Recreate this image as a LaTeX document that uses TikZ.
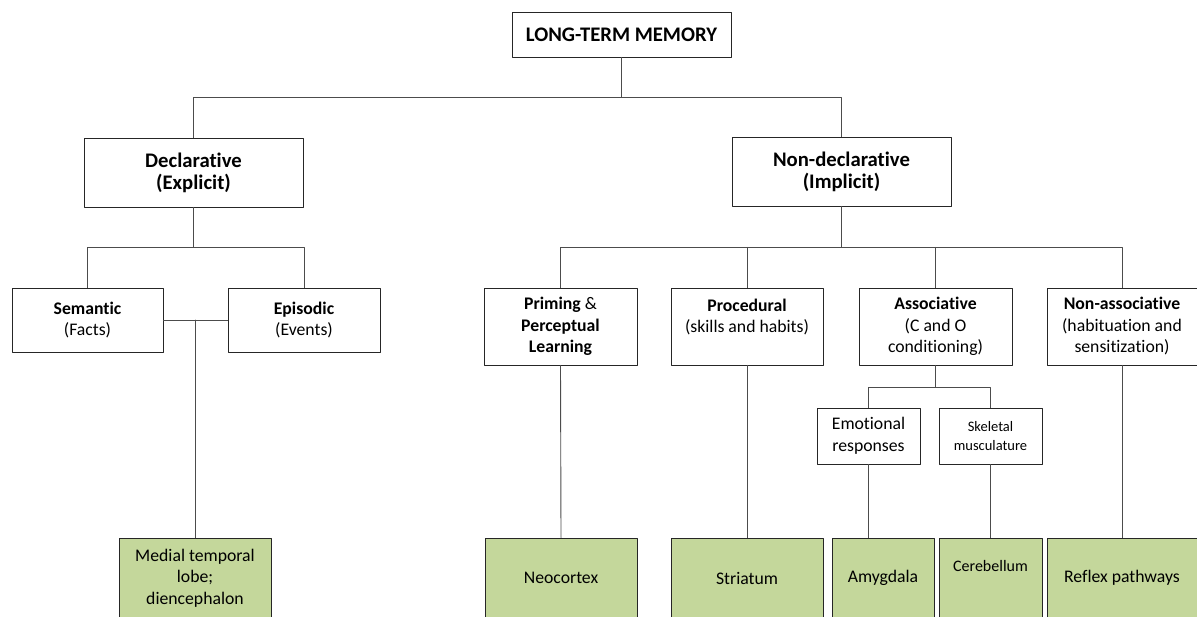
\documentclass[tikz,border=0pt]{standalone}
\usepackage{fontspec}
\setmainfont{Carlito}[Ligatures=NoCommon]
\definecolor{leaf}{HTML}{C4D79B}
\begin{document}
\begin{tikzpicture}[x=1pt, y=-1pt, line join=round, line cap=round,
  box/.style={draw=black!85, line width=0.9pt, fill=white, align=center, inner sep=1pt,
    font=\fontsize{17.7}{21.5}\selectfont},
  head/.style={box, minimum width=219pt, font=\fontsize{20.7}{22}\selectfont\bfseries},
  brain/.style={box, fill=leaf, minimum height=80pt},
  link/.style={draw=black!70, line width=0.9pt}]
\useasboundingbox (0,0) rectangle (1197,617);
\clip (0,0) rectangle (1197,617);
% top levels
\node[head, minimum height=45pt] (ltm) at (621.5,34.5) {LONG-TERM MEMORY};
\node[head, minimum height=69pt] (decl) at (193.5,172.5) {Declarative\\(Explicit)};
\node[head, minimum height=69pt] (nd) at (841.5,171.5) {Non-declarative\\(Implicit)};
% declarative branch
\node[box, minimum width=151pt, minimum height=64pt] (sem) at (87.5,320) {\textbf{Semantic}\\(Facts)};
\node[box, minimum width=152pt, minimum height=64pt] (epi) at (304,320) {\textbf{Episodic}\\(Events)};
% non-declarative branch
\node[box, minimum width=153pt, minimum height=77pt] (prim) at (560.5,326.5) {\textbf{Priming} \&\\\textbf{Perceptual}\\\textbf{Learning}};
\node[box, minimum width=152pt, minimum height=77pt] (proc) at (747,326.5) {\textbf{Procedural}\\(skills and habits)\\~};
\node[box, minimum width=153pt, minimum height=77pt] (assoc) at (935.5,326.5) {\textbf{Associative}\\(C and O\\conditioning)};
\node[box, minimum width=150pt, minimum height=77pt] (nonas) at (1122,326.5) {\textbf{Non-associative}\\(habituation and\\sensitization)};
\node[box, minimum width=103pt, minimum height=56pt] (emo) at (868.5,436) {Emotional\\responses};
\node[box, minimum width=103pt, minimum height=56pt, font=\fontsize{14.5}{19}\selectfont] (skel) at (990.5,436) {Skeletal\\musculature};
% brain regions
\node[brain, minimum width=152pt] (mtl) at (195,578) {Medial temporal\\lobe;\\diencephalon};
\node[brain, minimum width=152pt] (neo) at (561,578) {Neocortex};
\node[brain, minimum width=152pt] (stri) at (747,578) {Striatum};
\node[brain, minimum width=102pt] (amy) at (883,578) {Amygdala};
\node[brain, minimum width=103pt, font=\fontsize{16}{21}\selectfont] (cer) at (990.5,578) {Cerebellum\\[4pt]};
\node[brain, minimum width=150pt] (refl) at (1122,578) {Reflex pathways};
% connectors
\draw[link] (ltm.south) -- ++(0,40) coordinate (top);
\draw[link] (decl.north) |- (top) -| (nd.north);
\draw[link] (decl.south) -- ++(0,40) coordinate (dbus);
\draw[link] (sem.north) |- (dbus) -| (epi.north);
\draw[link] (sem.east) -- (epi.west);
\draw[link] (mtl.north) -- (mtl.north |- sem.east);
\draw[link] (nd.south) -- ++(0,41) coordinate (nbus);
\draw[link] (prim.north) |- (nbus) -| (nonas.north);
\draw[link] (proc.north) -- (proc.north |- nbus);
\draw[link] (assoc.north) -- (assoc.north |- nbus);
\draw[link] (assoc.south) -- ++(0,22) coordinate (abus);
\draw[link] (emo.north) |- (abus) -| (skel.north);
\draw[link] (prim.south) -- (neo.north);
\draw[link] (proc.south) -- (stri.north);
\draw[link] (emo.south) -- (emo.south |- amy.north);
\draw[link] (skel.south) -- (skel.south |- cer.north);
\draw[link] (nonas.south) -- (nonas.south |- refl.north);
\end{tikzpicture}
\end{document}
